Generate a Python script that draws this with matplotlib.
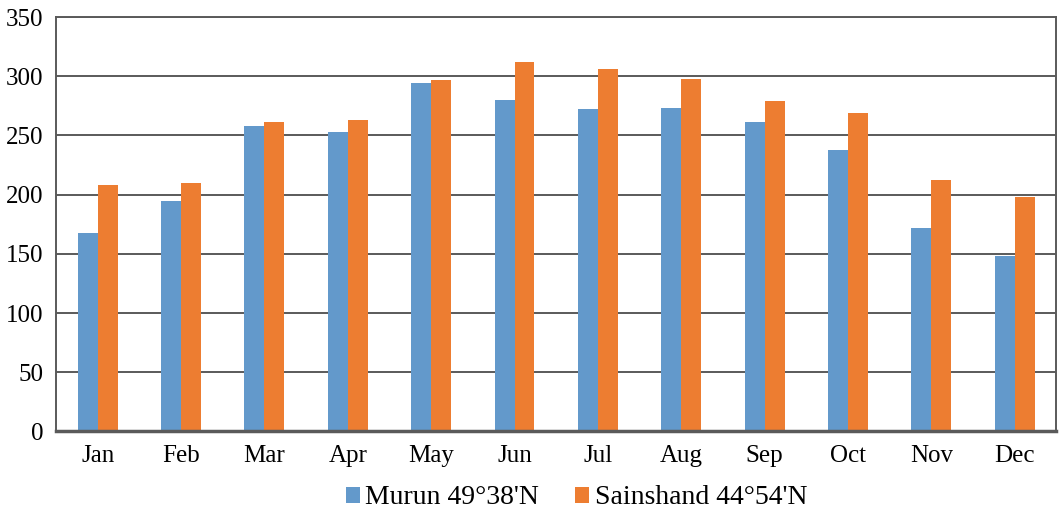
import numpy as np
import matplotlib.pyplot as plt

months = ["Jan", "Feb", "Mar", "Apr", "May", "Jun", "Jul", "Aug", "Sep", "Oct", "Nov", "Dec"]
murun = [168, 195, 258, 253, 294, 280, 272, 273, 261, 238, 172, 148]
sainshand = [208, 210, 261, 263, 297, 312, 306, 298, 279, 269, 212, 198]

plt.rcParams['font.family'] = ['Liberation Serif', 'DejaVu Serif']

fig = plt.figure(figsize=(10.62, 5.09), dpi=100)
ax = fig.add_axes([0.0527, 0.1523, 0.9421, 0.8143])

x = np.arange(len(months))
w = 0.239
ax.bar(x - w / 2, murun, w, color='#6399CB', label="Murun 49°38'N", zorder=3)
ax.bar(x + w / 2, sainshand, w, color='#ED7D31', label="Sainshand 44°54'N", zorder=3)

ax.set_xlim(-0.5, len(months) - 0.5)
ax.set_ylim(0, 350)
ax.set_yticks(range(0, 351, 50))
ax.set_xticks(x)
ax.set_xticklabels(months)
ax.tick_params(axis='both', length=0, labelsize=18)
ax.tick_params(axis='y', pad=9)
ax.tick_params(axis='x', pad=10)

ax.grid(axis='y', color='#5a5a5a', linewidth=1.4, zorder=0)
for side in ['left', 'top', 'right']:
    ax.spines[side].set_color('#5a5a5a')
    ax.spines[side].set_linewidth(1.4)
ax.spines['bottom'].set_color('#5a5a5a')
ax.spines['bottom'].set_linewidth(2.5)
ax.spines['bottom'].set_zorder(4)

fig.legend(loc='lower center', bbox_to_anchor=(0.543, -0.052), ncol=2, frameon=False,
           fontsize=20, handlelength=0.5, handleheight=0.5, handletextpad=0.2,
           columnspacing=1.3)

fig.savefig('out.png', dpi=100)
